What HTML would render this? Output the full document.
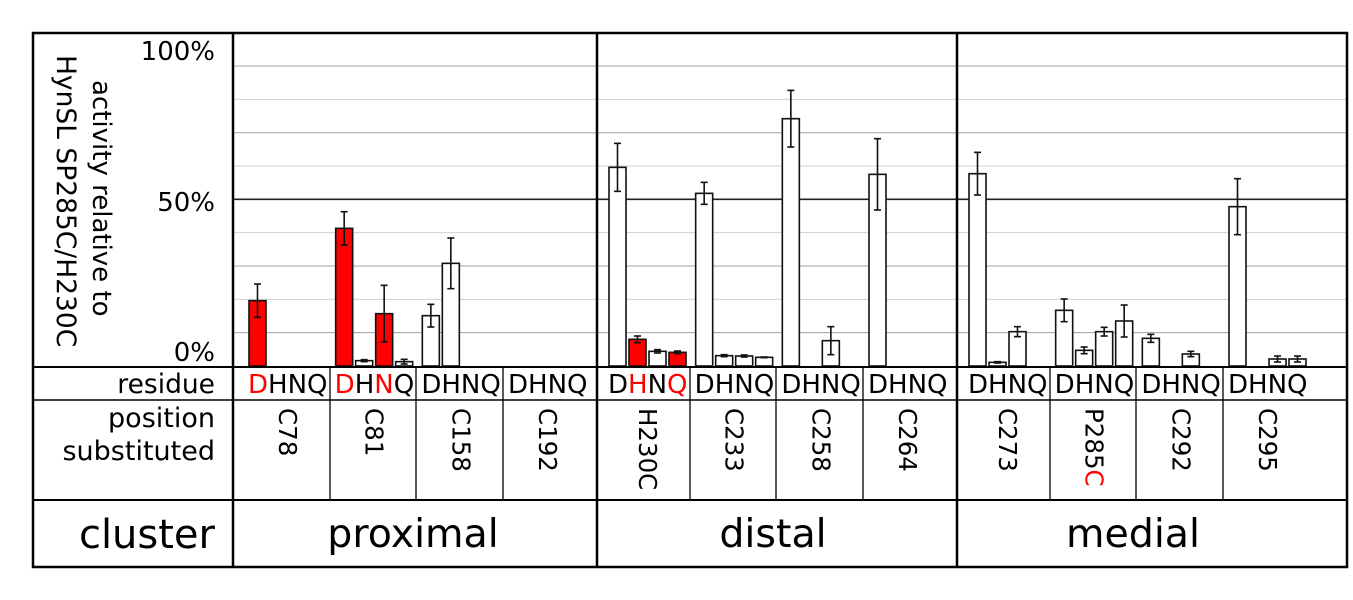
<!DOCTYPE html>
<html><head><meta charset="utf-8"><style>
body{margin:0;background:#fff;}
svg{display:block;font-family:"DejaVu Sans","Liberation Sans",sans-serif;}
</style></head><body>
<svg id="chart" width="1353" height="600" xmlns="http://www.w3.org/2000/svg"></svg>
<script>
const positions=["C78","C81","C158","C192","H230C","C233","C258","C264","C273","P285C","C292","C295"];
const clusters=["proximal","distal","medial"];
const residues=["D","H","N","Q"];
const valD=[19.6,41.3,15.1,null,59.6,51.8,74.2,57.5,57.7,16.7,8.3,47.8];
const valH=[null,1.6,30.8,null,8.0,3.1,null,null,1.1,4.7,null,null];
const valN=[null,15.7,null,null,4.4,3.0,7.6,null,10.3,10.3,3.6,2.1];
const valQ=[null,1.3,null,null,4.1,2.6,null,null,null,13.5,null,2.1];
const errD=[5.0,5.0,3.4,0,7.2,3.3,8.5,10.7,6.4,3.4,1.2,8.4];
const errH=[0,0.3,7.6,0,1.0,0.3,0,0,0.2,1.0,0,0];
const errN=[0,8.5,0,0,0.5,0.3,4.2,0,1.5,1.3,0.8,0.9];
const errQ=[0,0.7,0,0,0.4,0.1,0,0,0,4.8,0,0.9];
const redD=[1,1,0,0,0,0,0,0,0,0,0,0];
const redH=[0,0,0,0,1,0,0,0,0,0,0,0];
const redN=[0,1,0,0,0,0,0,0,0,0,0,0];
const redQ=[0,0,0,0,1,0,0,0,0,0,0,0];
const yTicks=[0,50,100];
const yTickLabels=["0%","50%","100%"];

const NS="http://www.w3.org/2000/svg";
const svg=document.getElementById('chart');
function mk(tag,attrs,parent){const e=document.createElementNS(NS,tag);for(const k in attrs)e.setAttribute(k,attrs[k]);(parent||svg).appendChild(e);return e;}
const Y0=366,PXPCT=3.333;
function y(v){return Y0-v*PXPCT;}
const clusterStart=[249,609,969];
function barX(p,i){return clusterStart[Math.floor(p/4)]+(p%4)*86.67+i*20;}
const clusterCenters=[413,773,1133];
const posBounds=[[233,330],[330,416],[416,503],[503,597],[597,690],[690,776],[776,863],[863,957],[957,1050],[1050,1136],[1136,1223],[1223,1347]];

for(let g=10;g<100;g+=10){
  if(g===50)continue;
  const l=mk('line',{x1:233,x2:1347,y1:y(g),y2:y(g),stroke:g%20===0?'#d0d0d0':'#a0a0a0','stroke-width':1});
  
  
}
const l50=mk('line',{x1:233,x2:1347,y1:y(50),y2:y(50),stroke:'#222','stroke-width':1.6});



const vals=[valD,valH,valN,valQ],errs=[errD,errH,errN,errQ],reds=[redD,redH,redN,redQ];
for(let p=0;p<positions.length;p++){
  for(let i=0;i<4;i++){
    const v=vals[i][p];if(v==null)continue;
    const x=barX(p,i);
    const r=mk('rect',{x:x,y:y(v),width:17,height:Y0-y(v),fill:reds[i][p]?'#ff0000':'#fff',stroke:'#111','stroke-width':1.6});
    
    
    const e=errs[i][p];
    if(e>0){
      const cx=x+8.5,g=mk('g',{stroke:'#111','stroke-width':1.6});
      
      
      mk('line',{x1:cx,x2:cx,y1:y(v+e),y2:y(v-e)},g);
      mk('line',{x1:cx-3.5,x2:cx+3.5,y1:y(v+e),y2:y(v+e)},g);
      mk('line',{x1:cx-3.5,x2:cx+3.5,y1:y(v-e),y2:y(v-e)},g);
    }
  }
}

const T=mk('g',{stroke:'#000',fill:'none'});


mk('line',{x1:33,x2:1347,y1:367,y2:367,'stroke-width':2},T);
mk('line',{x1:33,x2:1347,y1:400,y2:400,'stroke-width':1.5},T);
mk('line',{x1:33,x2:1347,y1:500,y2:500,'stroke-width':2},T);
posBounds.forEach((b,p)=>{ if(p%4!==0) mk('line',{x1:b[0],x2:b[0],y1:367,y2:500,'stroke-width':1.3},T); });
[597,957].forEach(x=>mk('line',{x1:x,x2:x,y1:33,y2:567,'stroke-width':2.5},T));
mk('line',{x1:233,x2:233,y1:33,y2:567,'stroke-width':2.5},T);
mk('rect',{x:33,y:33,width:1314,height:534,'stroke-width':2.5},T);

for(let p=0;p<positions.length;p++){
  const t=mk('text',{x:barX(p,0)-1,y:393,'font-size':26,fill:'#000'});
  
  
  for(let i=0;i<4;i++){const s=mk('tspan',{fill:reds[i][p]?'#ff0000':'#000'},t);s.textContent=residues[i];}
  const cx=barX(p,0)+38;
  const pt=mk('text',{x:0,y:0,'font-size':24.5,transform:`translate(${cx-8},408) rotate(90)`});
  
  
  if(positions[p]==="P285C"){const a=mk('tspan',{},pt);a.textContent="P285";const b=mk('tspan',{fill:'#ff0000'},pt);b.textContent="C";}
  else pt.textContent=positions[p];
}
clusters.forEach((c,k)=>{
  const t=mk('text',{x:clusterCenters[k],y:547,'font-size':39.5,'text-anchor':'middle'});
  
  
  t.textContent=c;
});

function lt(txt,x,yy,fs,name,anchor){const t=mk('text',{x:x,y:yy,'font-size':fs,'text-anchor':anchor||'end'});t.textContent=txt;return t;}
yTicks.forEach((v,i)=>{const yy=[361,211,60][i];lt(yTickLabels[i],215,yy,26,'y-tick-'+v);});
lt('residue',215,393,26.5,'residue-row-label');
lt('position',215,427,27,'position-row-label');
lt('substituted',215,460,27,'position-row-label-2');
lt('cluster',215,548,40,'cluster-row-label');
const yt=mk('text',{x:0,y:0,'font-size':26.5,transform:'translate(57,55) rotate(90)'});


yt.textContent='HynSL SP285C/H230C';
const yt2=mk('text',{x:0,y:0,'font-size':26,transform:'translate(93,80) rotate(90)'});


yt2.textContent='activity relative to';
</script>
</body></html>
